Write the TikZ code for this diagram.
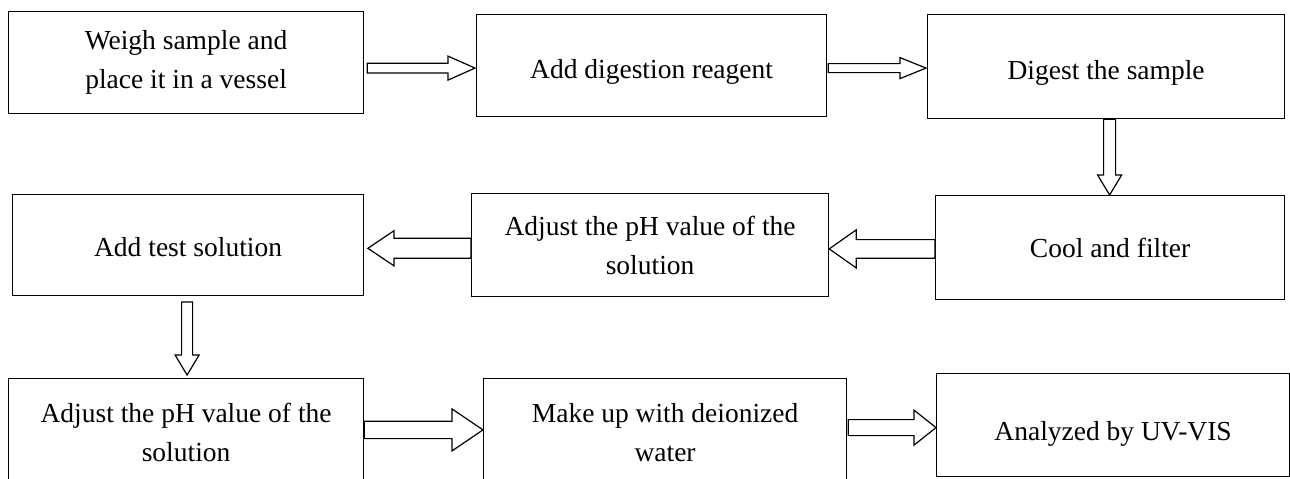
\documentclass[tikz,border=0pt]{standalone}
\usepackage{fontspec}
\setmainfont{Liberation Serif}
\usetikzlibrary{calc}
\tikzset{
  box/.style={draw, line width=1.2pt, anchor=north west, inner sep=0pt, align=center,
    font=\fontsize{27.5}{39}\selectfont},
  blockarr/.style={draw, line width=1.2pt, fill=white, line join=miter},
}
% #1 start, #2 end, #3 shaft half width, #4 head half width, #5 head length
\newcommand\blockarrow[5]{%
  \coordinate (ba-s) at (#1);
  \coordinate (ba-e) at (#2);
  \coordinate (ba-h) at ($(ba-e)!#5!(ba-s)$);
  \draw[blockarr] ($(ba-s)!#3!90:(ba-e)$) -- ($(ba-h)!#3!90:(ba-e)$) --
    ($(ba-h)!#4!90:(ba-e)$) -- (ba-e) -- ($(ba-h)!#4!-90:(ba-e)$) --
    ($(ba-h)!#3!-90:(ba-e)$) -- ($(ba-s)!#3!-90:(ba-e)$) -- cycle;
}
\begin{document}
\begin{tikzpicture}[x=1pt,y=-1pt]
\path[use as bounding box] (0,0) rectangle (1290,479);
\fill[white] (0,0) rectangle (1290,479);
\clip (0,0) rectangle (1290,479);

\node[box, minimum width=355pt, minimum height=102pt] (b1) at (8,11) {Weigh sample and\\place it in a vessel};
\node[box, minimum width=350pt, minimum height=102pt, text height=31pt] (b2) at (476,14) {Add digestion reagent};
\node[box, minimum width=357pt, minimum height=104pt, text height=31pt] (b3) at (927,14) {Digest the sample};
\node[box, minimum width=351pt, minimum height=101pt, text height=24pt] (b4) at (12,194) {Add test solution};
\node[box, minimum width=357pt, minimum height=103pt] (b5) at (471,193) {Adjust the pH value of the\\solution};
\node[box, minimum width=349pt, minimum height=104pt] (b6) at (935,195) {Cool and filter};
\node[box, minimum width=355pt, minimum height=108pt] (b7) at (8,378) {Adjust the pH value of the\\solution};
\node[box, minimum width=363pt, minimum height=108pt] (b8) at (483,378) {Make up with deionized\\water};
\node[box, minimum width=353pt, minimum height=103pt, text height=36pt] (b9) at (936,373) {Analyzed by UV-VIS};

\blockarrow{$(b1.east)+(3,5.5)$}{$(b2.west)+(-1,2.5)$}{4.8pt}{12pt}{27pt}
\blockarrow{$(b2.east)+(1,2.5)$}{$(b3.west)+(-1,1.5)$}{4.5pt}{10.5pt}{26pt}
\blockarrow{$(b3.south)+(3.5,0)$}{$(b6.north)+(-0.5,0)$}{6pt}{12pt}{20pt}
\blockarrow{$(b6.west)+(0,1.3)$}{$(b5.east)+(0,3.8)$}{9.3pt}{19pt}{27pt}
\blockarrow{$(b5.west)+(0,3.2)$}{$(b4.east)+(3.7,3.2)$}{10pt}{17.5pt}{26pt}
\blockarrow{$(b4.south)+(-1,5.7)$}{$(b7.north)+(1,-3)$}{5.5pt}{12pt}{20pt}
\blockarrow{$(b7.east)+(0,-2.7)$}{$(b8.west)+(0,-2.7)$}{8.7pt}{21pt}{31pt}
\blockarrow{$(b8.east)+(1,-5)$}{$(b9.west)+(0,2.5)$}{8pt}{17.5pt}{22pt}
\end{tikzpicture}
\end{document}
